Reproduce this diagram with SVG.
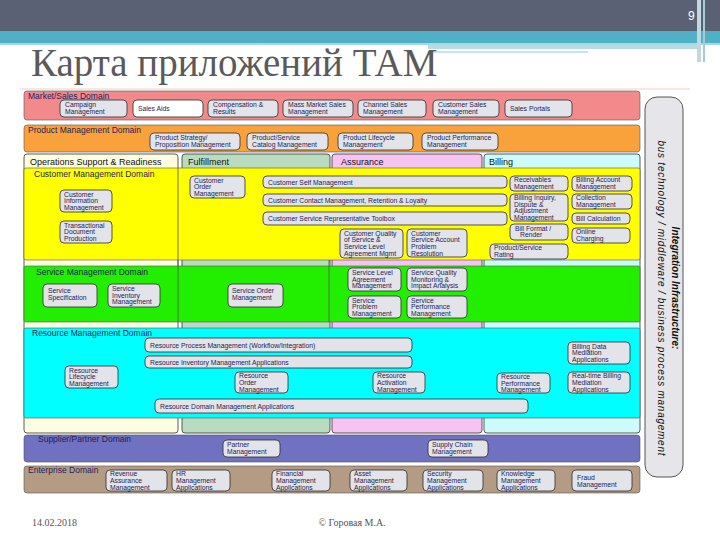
<svg xmlns="http://www.w3.org/2000/svg" width="720" height="540" viewBox="0 0 720 540">
<style>
.box{fill:#e3e3ea;stroke:#2c2c2c;stroke-width:0.8}
.wbox{fill:#ffffff;stroke:#2c2c2c;stroke-width:0.8}
.bt{font-family:"Liberation Sans",Arial,sans-serif;font-size:6.8px;fill:#1e1e50}
.dl{font-family:"Liberation Sans",Arial,sans-serif;font-size:8.5px;fill:#1e1e5a}
.tab{font-family:"Liberation Sans",Arial,sans-serif;font-size:9px;fill:#111111}
.band{stroke:#555555;stroke-width:0.6}
.col{stroke:#333333;stroke-width:0.8}
.sep{stroke:#555555;stroke-width:0.8}
.ft{font-family:"Liberation Serif","Times New Roman",serif;font-size:10px;fill:#555555}
</style>
<rect x="0" y="0" width="720" height="540" fill="#ffffff"/>
<g id="header">
<rect x="0" y="0" width="720" height="31" fill="#5a6175"/>
<rect x="0" y="31" width="720" height="12" fill="#4fb0c6"/>
<rect x="0" y="43" width="720" height="2" fill="#a8d8e4"/>
<rect x="428" y="45" width="270" height="4" fill="#b8dce6"/>
<rect x="428" y="51" width="160" height="2" fill="#c8e4ec"/>
<rect x="697" y="0" width="4" height="62" fill="#c0d8e0"/>
<rect x="703" y="0" width="2" height="62" fill="#a8c8d4"/>
<text x="688" y="20" font-family="Liberation Sans, Arial, sans-serif" font-size="12" fill="#ffffff">9</text>
<text x="31" y="76" font-family="Liberation Serif, Times New Roman, serif" font-size="39" fill="#5a5a5a">Карта приложений ТАМ</text>
<line x1="20" y1="89" x2="690" y2="89" stroke="#f0d0c8" stroke-width="1"/>
</g>
<g id="columns">
<rect class="col" x="24" y="154" width="154" height="279" rx="3" fill="#fdfde2"/>
<rect class="col" x="182" y="154" width="148" height="279" rx="3" fill="#b9dcc0"/>
<rect class="col" x="332" y="154" width="150" height="279" rx="3" fill="#f5c4f2"/>
<rect class="col" x="484" y="154" width="156" height="279" rx="3" fill="#cdfafa"/>
<text class="tab" x="30" y="164.5">Operations Support &amp; Readiness</text>
<text class="tab" x="188" y="164.5">Fulfillment</text>
<text class="tab" x="341" y="164.5">Assurance</text>
<text class="tab" x="489" y="164.5">Billing</text>
</g>
<g id="domains">
<rect class="band" x="24" y="91" width="616" height="29" rx="3" fill="#f28a8c"/>
<text class="dl" x="28" y="99">Market/Sales Domain</text>
<rect class="band" x="24" y="125" width="616" height="27" rx="3" fill="#f9a13a"/>
<text class="dl" x="28" y="133">Product Management Domain</text>
<rect class="band" x="24" y="168" width="616" height="92" rx="2" fill="#ffff00"/>
<text class="dl" x="34" y="177">Customer Management Domain</text>
<rect class="band" x="24" y="266" width="616" height="56" rx="2" fill="#22ee00"/>
<text class="dl" x="36" y="275">Service Management Domain</text>
<rect class="band" x="24" y="328" width="616" height="90" rx="2" fill="#00ffff"/>
<text class="dl" x="32" y="336">Resource Management Domain</text>
<rect class="band" x="24" y="435" width="616" height="27" rx="3" fill="#7171c2"/>
<text class="dl" x="38" y="442">Supplier/Partner Domain</text>
<rect class="band" x="24" y="466" width="616" height="27" rx="3" fill="#b49c84"/>
<text class="dl" x="28" y="473">Enterprise Domain</text>
<line class="sep" x1="178" y1="168" x2="178" y2="322"/>
<line class="sep" x1="329" y1="260" x2="329" y2="322"/>
</g>
<g id="connectors"></g>
<!-- Market/Sales -->
<g id="campaign-mgmt"><rect class="box" x="60" y="100" width="67" height="17" rx="4"/><text class="bt"><tspan x="65" y="107">Campaign</tspan><tspan x="65" y="114">Management</tspan></text></g>
<g id="sales-aids"><rect class="wbox" x="133" y="100" width="70" height="17" rx="4"/><text class="bt" x="138" y="111">Sales Aids</text></g>
<g id="compensation"><rect class="box" x="208" y="100" width="70" height="17" rx="4"/><text class="bt"><tspan x="213" y="107">Compensation &amp;</tspan><tspan x="213" y="114">Results</tspan></text></g>
<g id="mass-market"><rect class="box" x="283" y="100" width="70" height="17" rx="4"/><text class="bt"><tspan x="288" y="107">Mass Market Sales</tspan><tspan x="288" y="114">Management</tspan></text></g>
<g id="channel-sales"><rect class="box" x="358" y="100" width="68" height="17" rx="4"/><text class="bt"><tspan x="363" y="107">Channel Sales</tspan><tspan x="363" y="114">Management</tspan></text></g>
<g id="customer-sales"><rect class="box" x="433" y="100" width="66" height="17" rx="4"/><text class="bt"><tspan x="438" y="107">Customer Sales</tspan><tspan x="438" y="114">Management</tspan></text></g>
<g id="sales-portals"><rect class="box" x="505" y="100" width="67" height="17" rx="4"/><text class="bt" x="510" y="111">Sales Portals</text></g>
<!-- Product -->
<g id="product-strategy"><rect class="box" x="150" y="133" width="90" height="17" rx="4"/><text class="bt"><tspan x="155" y="140">Product Strategy/</tspan><tspan x="155" y="147">Proposition Management</tspan></text></g>
<g id="product-catalog"><rect class="box" x="247" y="133" width="81" height="17" rx="4"/><text class="bt"><tspan x="252" y="140">Product/Service</tspan><tspan x="252" y="147">Catalog Management</tspan></text></g>
<g id="product-lifecycle"><rect class="box" x="338" y="133" width="75" height="17" rx="4"/><text class="bt"><tspan x="343" y="140">Product Lifecycle</tspan><tspan x="343" y="147">Management</tspan></text></g>
<g id="product-performance"><rect class="box" x="422" y="133" width="76" height="17" rx="4"/><text class="bt"><tspan x="427" y="140">Product Performance</tspan><tspan x="427" y="147">Management</tspan></text></g>
<!-- Customer -->
<g id="customer-information"><rect class="box" x="60" y="190" width="52" height="22" rx="4"/><text class="bt"><tspan x="64" y="196.5">Customer</tspan><tspan x="64" y="203.3">Information</tspan><tspan x="64" y="210.1">Management</tspan></text></g>
<g id="transactional-doc"><rect class="box" x="60" y="221" width="52" height="22" rx="4"/><text class="bt"><tspan x="64" y="227.5">Transactional</tspan><tspan x="64" y="234.3">Document</tspan><tspan x="64" y="241.1">Production</tspan></text></g>
<g id="customer-order"><rect class="box" x="190" y="176" width="55" height="22" rx="4"/><text class="bt"><tspan x="194" y="182.5">Customer</tspan><tspan x="194" y="189.3">Order</tspan><tspan x="194" y="196.1">Management</tspan></text></g>
<g id="customer-self"><rect class="box" x="263" y="176" width="244" height="12" rx="4"/><text class="bt" x="268" y="184.5">Customer Self Management</text></g>
<g id="customer-contact"><rect class="box" x="263" y="194" width="244" height="12" rx="4"/><text class="bt" x="268" y="202.5">Customer Contact Management, Retention &amp; Loyalty</text></g>
<g id="csr-toolbox"><rect class="box" x="263" y="212" width="244" height="13" rx="4"/><text class="bt" x="268" y="221">Customer Service Representative Toolbox</text></g>
<g id="customer-qos"><rect class="box" x="340" y="229" width="63" height="29" rx="4"/><text class="bt"><tspan x="344" y="235.5">Customer Quality</tspan><tspan x="344" y="242.2">of Service &amp;</tspan><tspan x="344" y="248.9">Service Level</tspan><tspan x="344" y="255.6">Agreement Mgmt</tspan></text></g>
<g id="customer-problem"><rect class="box" x="407" y="229" width="60" height="28" rx="4"/><text class="bt"><tspan x="411" y="235.5">Customer</tspan><tspan x="411" y="242.2">Service Account</tspan><tspan x="411" y="248.9">Problem</tspan><tspan x="411" y="255.6">Resolution</tspan></text></g>
<g id="receivables"><rect class="box" x="510" y="176" width="58" height="15" rx="4"/><text class="bt"><tspan x="514" y="182.3">Receivables</tspan><tspan x="514" y="189">Management</tspan></text></g>
<g id="billing-account"><rect class="box" x="572" y="176" width="60" height="15" rx="4"/><text class="bt"><tspan x="576" y="182.3">Billing Account</tspan><tspan x="576" y="189">Management</tspan></text></g>
<g id="billing-inquiry"><rect class="box" x="510" y="194" width="58" height="27" rx="4"/><text class="bt"><tspan x="514" y="200.3">Billing Inquiry,</tspan><tspan x="514" y="206.8">Dispute &amp;</tspan><tspan x="514" y="213.3">Adjustment</tspan><tspan x="514" y="219.8">Management</tspan></text></g>
<g id="collection"><rect class="box" x="572" y="194" width="60" height="15" rx="4"/><text class="bt"><tspan x="576" y="200.3">Collection</tspan><tspan x="576" y="207">Management</tspan></text></g>
<g id="bill-calculation"><rect class="box" x="572" y="213" width="58" height="11" rx="4"/><text class="bt" x="576" y="220.8">Bill Calculation</text></g>
<g id="bill-format"><rect class="box" x="510" y="224" width="58" height="16" rx="4"/><text class="bt"><tspan x="515" y="230.5">Bill Format /</tspan><tspan x="520" y="237.3">Render</tspan></text></g>
<g id="online-charging"><rect class="box" x="572" y="228" width="58" height="15" rx="4"/><text class="bt"><tspan x="576" y="234.3">Online</tspan><tspan x="576" y="241">Charging</tspan></text></g>
<g id="product-rating"><rect class="box" x="490" y="244" width="78" height="15" rx="4"/><text class="bt"><tspan x="494" y="250.3">Product/Service</tspan><tspan x="494" y="257">Rating</tspan></text></g>
<!-- Service -->
<g id="service-spec"><rect class="box" x="43" y="284" width="54" height="23" rx="4"/><text class="bt"><tspan x="48" y="293">Service</tspan><tspan x="48" y="300">Specification</tspan></text></g>
<g id="service-inventory"><rect class="box" x="108" y="284" width="52" height="23" rx="4"/><text class="bt"><tspan x="112" y="290.8">Service</tspan><tspan x="112" y="297.6">Inventory</tspan><tspan x="112" y="304.4">Management</tspan></text></g>
<g id="service-order"><rect class="box" x="228" y="284" width="55" height="23" rx="4"/><text class="bt"><tspan x="232" y="293">Service Order</tspan><tspan x="232" y="300">Management</tspan></text></g>
<g id="sla-mgmt"><rect class="box" x="348" y="268" width="53" height="23" rx="4"/><text class="bt"><tspan x="352" y="274.8">Service Level</tspan><tspan x="352" y="281.6">Agreement</tspan><tspan x="352" y="288.4">Management</tspan></text></g>
<g id="service-quality"><rect class="box" x="407" y="268" width="60" height="23" rx="4"/><text class="bt"><tspan x="411" y="274.8">Service Quality</tspan><tspan x="411" y="281.6">Monitoring &amp;</tspan><tspan x="411" y="288.4">Impact Analysis</tspan></text></g>
<g id="service-problem"><rect class="box" x="348" y="296" width="53" height="22" rx="4"/><text class="bt"><tspan x="352" y="302.5">Service</tspan><tspan x="352" y="309.3">Problem</tspan><tspan x="352" y="316.1">Management</tspan></text></g>
<g id="service-performance"><rect class="box" x="407" y="296" width="60" height="22" rx="4"/><text class="bt"><tspan x="411" y="302.5">Service</tspan><tspan x="411" y="309.3">Performance</tspan><tspan x="411" y="316.1">Management</tspan></text></g>
<!-- Resource -->
<g id="resource-process"><rect class="box" x="145" y="338" width="267" height="14" rx="4"/><text class="bt" x="150" y="347.5">Resource Process Management (Workflow/Integration)</text></g>
<g id="resource-inventory"><rect class="box" x="145" y="356" width="267" height="12" rx="4"/><text class="bt" x="150" y="364.5">Resource Inventory Management Applications</text></g>
<g id="resource-lifecycle"><rect class="box" x="65" y="366" width="53" height="22" rx="4"/><text class="bt"><tspan x="69" y="372.5">Resource</tspan><tspan x="69" y="379.3">Lifecycle</tspan><tspan x="69" y="386.1">Management</tspan></text></g>
<g id="resource-order"><rect class="box" x="235" y="372" width="53" height="21" rx="4"/><text class="bt"><tspan x="239" y="378.3">Resource</tspan><tspan x="239" y="385.1">Order</tspan><tspan x="239" y="391.9">Management</tspan></text></g>
<g id="resource-activation"><rect class="box" x="373" y="372" width="52" height="21" rx="4"/><text class="bt"><tspan x="377" y="378.3">Resource</tspan><tspan x="377" y="385.1">Activation</tspan><tspan x="377" y="391.9">Management</tspan></text></g>
<g id="resource-performance"><rect class="box" x="497" y="373" width="53" height="20" rx="4"/><text class="bt"><tspan x="501" y="379">Resource</tspan><tspan x="501" y="385.6">Performance</tspan><tspan x="501" y="392.2">Management</tspan></text></g>
<g id="billing-data-mediation"><rect class="box" x="568" y="342" width="62" height="22" rx="4"/><text class="bt"><tspan x="572" y="348.5">Billing Data</tspan><tspan x="572" y="355.3">Mediation</tspan><tspan x="572" y="362.1">Applications</tspan></text></g>
<g id="realtime-billing-mediation"><rect class="box" x="568" y="372" width="62" height="21" rx="4"/><text class="bt"><tspan x="572" y="378.3">Real-time Billing</tspan><tspan x="572" y="385.1">Mediation</tspan><tspan x="572" y="391.9">Applications</tspan></text></g>
<g id="resource-domain"><rect class="box" x="155" y="399" width="373" height="14" rx="4"/><text class="bt" x="160" y="408.5">Resource Domain Management Applications</text></g>
<!-- Supplier/Partner -->
<g id="partner-mgmt"><rect class="box" x="223" y="440" width="57" height="17" rx="4"/><text class="bt"><tspan x="227" y="447">Partner</tspan><tspan x="227" y="454">Management</tspan></text></g>
<g id="supply-chain"><rect class="box" x="428" y="440" width="60" height="17" rx="4"/><text class="bt"><tspan x="432" y="447">Supply Chain</tspan><tspan x="432" y="454">Management</tspan></text></g>
<!-- Enterprise -->
<g id="revenue-assurance"><rect class="box" x="106" y="470" width="61" height="21" rx="4"/><text class="bt"><tspan x="110" y="476.3">Revenue</tspan><tspan x="110" y="483.1">Assurance</tspan><tspan x="110" y="489.9">Management</tspan></text></g>
<g id="hr-mgmt"><rect class="box" x="172" y="470" width="58" height="21" rx="4"/><text class="bt"><tspan x="176" y="476.3">HR</tspan><tspan x="176" y="483.1">Management</tspan><tspan x="176" y="489.9">Applications</tspan></text></g>
<g id="financial-mgmt"><rect class="box" x="272" y="470" width="58" height="21" rx="4"/><text class="bt"><tspan x="276" y="476.3">Financial</tspan><tspan x="276" y="483.1">Management</tspan><tspan x="276" y="489.9">Applications</tspan></text></g>
<g id="asset-mgmt"><rect class="box" x="350" y="470" width="57" height="21" rx="4"/><text class="bt"><tspan x="354" y="476.3">Asset</tspan><tspan x="354" y="483.1">Management</tspan><tspan x="354" y="489.9">Applications</tspan></text></g>
<g id="security-mgmt"><rect class="box" x="423" y="470" width="60" height="21" rx="4"/><text class="bt"><tspan x="427" y="476.3">Security</tspan><tspan x="427" y="483.1">Management</tspan><tspan x="427" y="489.9">Applications</tspan></text></g>
<g id="knowledge-mgmt"><rect class="box" x="497" y="470" width="58" height="21" rx="4"/><text class="bt"><tspan x="501" y="476.3">Knowledge</tspan><tspan x="501" y="483.1">Management</tspan><tspan x="501" y="489.9">Applications</tspan></text></g>
<g id="fraud-mgmt"><rect class="box" x="572" y="470" width="60" height="21" rx="4"/><text class="bt"><tspan x="577" y="479.5">Fraud</tspan><tspan x="577" y="486.5">Management</tspan></text></g>
<!-- Integration -->
<g id="integration-infrastructure">
<rect x="645" y="97" width="38" height="380" rx="12" fill="#e6e6ea" stroke="#444444" stroke-width="0.9"/>
<text transform="translate(672,288) rotate(90)" text-anchor="middle" font-family="Liberation Sans, Arial, sans-serif" font-size="10" font-weight="bold" font-style="italic" fill="#111111">Integration Infrastructure:</text>
<text transform="translate(658,298) rotate(90)" text-anchor="middle" font-family="Liberation Sans, Arial, sans-serif" font-size="10" font-style="italic" fill="#111111" textLength="315" lengthAdjust="spacing">bus technology / middleware / business process management</text>
</g>
<g id="footer">
<text class="ft" x="32" y="526">14.02.2018</text>
<text class="ft" x="352" y="526" text-anchor="middle">© Горовая М.А.</text>
</g>
</svg>
